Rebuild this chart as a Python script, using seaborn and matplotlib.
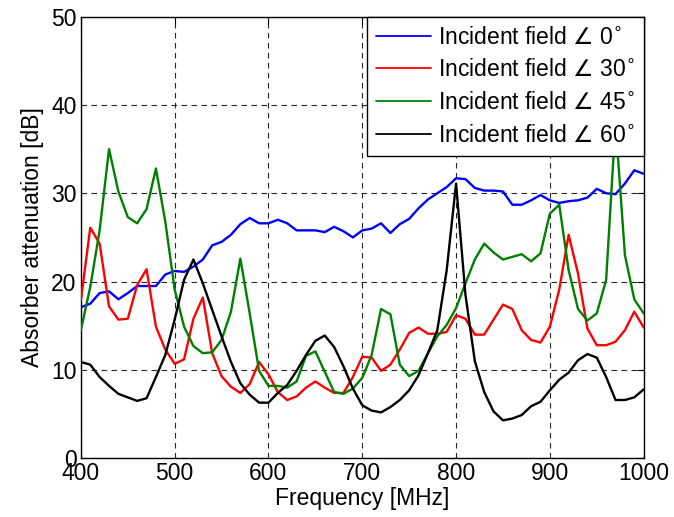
import numpy as np
import pandas as pd
import seaborn as sns
import matplotlib
matplotlib.use("Agg")
import matplotlib.pyplot as plt

freq = list(range(400, 1001, 10))

att_0 = [17.1, 17.5, 18.7, 18.9, 18.0, 18.7, 19.5, 19.5, 19.5, 20.8,
         21.2, 21.1, 21.7, 22.5, 24.1, 24.5, 25.3, 26.5, 27.2, 26.6,
         26.6, 27.0, 26.6, 25.8, 25.8, 25.8, 25.6, 26.2, 25.7, 25.0,
         25.8, 26.0, 26.6, 25.5, 26.5, 27.1, 28.3, 29.3, 30.0, 30.7,
         31.7, 31.6, 30.6, 30.3, 30.3, 30.2, 28.7, 28.7, 29.2, 29.8,
         29.2, 28.9, 29.1, 29.2, 29.5, 30.5, 30.0, 29.9, 31.1, 32.6,
         32.2]

att_30 = [17.9, 26.1, 24.3, 17.2, 15.7, 15.8, 19.6, 21.4, 14.9, 12.3,
          10.7, 11.2, 15.8, 18.2, 11.9, 9.3, 8.1, 7.4, 8.4, 10.9,
          9.5, 7.5, 6.6, 7.0, 8.0, 8.7, 8.0, 7.4, 7.4, 9.2,
          11.5, 11.4, 9.9, 10.6, 12.3, 14.2, 14.8, 14.1, 14.1, 14.3,
          16.2, 15.8, 14.0, 14.0, 15.7, 17.4, 16.9, 14.5, 13.4, 13.1,
          14.9, 19.1, 25.3, 20.9, 14.7, 12.8, 12.8, 13.2, 14.5, 16.6,
          14.8]

att_45 = [14.5, 19.4, 25.8, 35.0, 30.2, 27.3, 26.6, 28.2, 32.8, 26.8,
          19.1, 14.9, 12.7, 11.9, 12.0, 13.4, 16.6, 22.6, 16.4, 9.9,
          8.2, 8.2, 8.0, 8.7, 11.6, 12.1, 9.8, 7.5, 7.3, 7.9,
          9.1, 11.7, 16.9, 16.3, 10.6, 9.3, 9.9, 11.9, 13.8, 15.1,
          17.0, 19.8, 22.5, 24.3, 23.3, 22.5, 22.8, 23.1, 22.3, 23.2,
          27.7, 28.7, 21.3, 16.9, 15.6, 16.4, 20.2, 38.0, 23.0, 18.0,
          16.4]

att_60 = [10.9, 10.6, 9.2, 8.2, 7.3, 6.9, 6.5, 6.8, 9.2, 11.7,
          15.7, 20.2, 22.5, 19.8, 16.8, 13.8, 10.9, 8.5, 7.2, 6.3,
          6.3, 7.4, 8.3, 9.9, 11.7, 13.3, 13.9, 12.6, 10.4, 7.9,
          6.0, 5.4, 5.2, 5.8, 6.6, 7.7, 9.4, 11.9, 14.5, 21.3,
          31.1, 18.5, 11.0, 7.5, 5.3, 4.3, 4.5, 4.9, 5.9, 6.4,
          7.7, 8.9, 9.7, 11.1, 11.8, 11.4, 9.2, 6.6, 6.6, 6.9,
          7.8]

labels = [r"Incident field $\angle$ 0$^{\circ}$", r"Incident field $\angle$ 30$^{\circ}$",
          r"Incident field $\angle$ 45$^{\circ}$", r"Incident field $\angle$ 60$^{\circ}$"]
colors = ["#0000ff", "#ff0000", "#008000", "#000000"]
x_ticks = [400, 500, 600, 700, 800, 900, 1000]
y_ticks = [0, 10, 20, 30, 40, 50]

frames = []
for lab, vals in zip(labels, [att_0, att_30, att_45, att_60]):
    frames.append(pd.DataFrame({"Frequency": freq, "Attenuation": vals, "Series": lab}))
df = pd.concat(frames, ignore_index=True)

sns.set_style("white")
plt.rcParams["font.family"] = ["Liberation Sans", "DejaVu Sans"]
plt.rcParams["mathtext.fontset"] = "dejavusans"
plt.rcParams["text.color"] = "black"
plt.rcParams["axes.labelcolor"] = "black"

fig = plt.figure(figsize=(6.74, 5.17), dpi=100)
ax = fig.add_axes([0.120, 0.1135, 0.835, 0.8545])

sns.lineplot(data=df, x="Frequency", y="Attenuation", hue="Series",
             palette=dict(zip(labels, colors)), linewidth=1.7, ax=ax,
             legend=True, zorder=3)

ax.set_xlim(400, 1000)
ax.set_ylim(0, 50)
ax.set_xticks(x_ticks)
ax.set_yticks(y_ticks)
ax.tick_params(axis="both", direction="in", length=5, width=0.8,
               labelsize=16.5, top=True, right=True, colors="black", pad=3)
ax.grid(True, linestyle=(0, (5, 4)), color="0.15", linewidth=0.8)
for s in ax.spines.values():
    s.set_color("black")
    s.set_linewidth(1.0)
    s.set_visible(True)

ax.set_xlabel("Frequency [MHz]", fontsize=16.5, labelpad=1)
ax.set_ylabel("Absorber attenuation [dB]", fontsize=16.5, labelpad=5)

leg = ax.legend(loc="upper right", borderaxespad=0, fancybox=False,
                edgecolor="black", framealpha=1, fontsize=16.5,
                handlelength=2.4, handletextpad=0.3, labelspacing=0.42,
                borderpad=0.4, title=None)
leg.get_frame().set_linewidth(1.0)
leg.set_zorder(10)
for h in leg.get_lines():
    h.set_linewidth(1.3)

fig.savefig("out.png", dpi=100)
